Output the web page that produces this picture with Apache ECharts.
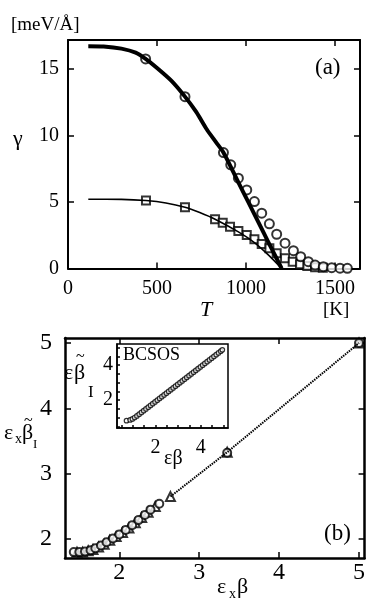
<!DOCTYPE html>
<html>
<head>
<meta charset="utf-8">
<script src="https://cdn.jsdelivr.net/npm/echarts@6/dist/echarts.min.js"></script>
<style>
  html, body { margin: 0; padding: 0; background: #fff; }
  #chart { width: 368px; height: 611px; }
</style>
</head>
<body>
<div id="chart"></div>
<script>
// panel (a): gamma vs T
const thickT = [114, 200, 300, 380, 436, 500, 580, 657, 720, 779, 830, 873, 950, 1010, 1100, 1150, 1200];
const thickG = [16.68, 16.66, 16.5, 16.2, 15.73, 15.05, 14.1, 12.9, 11.75, 10.45, 9.5, 8.7, 6.65, 5.05, 2.65, 1.32, 0];
const circleT = [436, 657, 873, 914, 957, 1004, 1047, 1088, 1131, 1172, 1219, 1266, 1307, 1350, 1388, 1434, 1481, 1528, 1569];
const circleG = [15.73, 12.9, 8.7, 7.78, 6.78, 5.9, 5.02, 4.15, 3.35, 2.57, 1.9, 1.34, 0.89, 0.51, 0.26, 0.14, 0.06, 0.02, 0.01];
const thinT = [114, 300, 438, 550, 657, 740, 826, 957, 1047, 1131, 1200];
const thinG = [5.2, 5.19, 5.1, 4.92, 4.6, 4.2, 3.7, 2.75, 1.95, 0.95, 0];
const squareT = [438, 657, 826, 869, 910, 957, 1004, 1047, 1088, 1131, 1172, 1219, 1262, 1303, 1344, 1388, 1431];
const squareG = [5.1, 4.6, 3.7, 3.44, 3.14, 2.82, 2.52, 2.19, 1.84, 1.52, 1.14, 0.77, 0.51, 0.31, 0.19, 0.09, 0.05];
const ticksAX = [0, 500, 1000, 1500];
const ticksAY = [0, 5, 10, 15];

// panel (b)
const circBX = [1.43, 1.50, 1.57, 1.64, 1.70, 1.77, 1.84, 1.92, 2.00, 2.08, 2.16, 2.24, 2.32, 2.39, 2.50, 3.35, 5.0];
const circBY = [1.80, 1.80, 1.81, 1.83, 1.86, 1.90, 1.95, 2.01, 2.07, 2.14, 2.21, 2.29, 2.37, 2.45, 2.54, 3.32, 5.0];
const triBX = [1.47, 1.54, 1.61, 1.67, 1.74, 1.81, 1.88, 1.96, 2.04, 2.12, 2.20, 2.28, 2.36, 2.45, 2.64, 3.35, 5.0];
const triBY = [1.80, 1.80, 1.82, 1.84, 1.88, 1.92, 1.98, 2.04, 2.10, 2.17, 2.25, 2.33, 2.41, 2.50, 2.65, 3.33, 5.0];
const dotX = [2.64, 3.35, 5.0];
const dotY = [2.65, 3.33, 5.0];
const ticksB = [2, 3, 4, 5];

// inset BCSOS
const insetX = [0.72, 0.88, 0.98, 1.08, 1.18, 1.28, 1.38, 1.48, 1.58, 1.68, 1.78, 1.88, 1.98, 2.08, 2.18, 2.28, 2.38, 2.48, 2.58, 2.68, 2.78, 2.88, 2.98, 3.08, 3.18, 3.28, 3.38, 3.48, 3.58, 3.68, 3.78, 3.88, 3.98, 4.08, 4.18, 4.28, 4.38, 4.48, 4.58, 4.68, 4.78, 4.88, 4.95];
const insetY = [0.82, 0.86, 0.92, 1.00, 1.09, 1.19, 1.29, 1.39, 1.49, 1.59, 1.69, 1.79, 1.89, 1.99, 2.09, 2.19, 2.29, 2.39, 2.49, 2.59, 2.69, 2.79, 2.89, 2.99, 3.09, 3.19, 3.29, 3.39, 3.49, 3.59, 3.69, 3.79, 3.89, 3.99, 4.09, 4.19, 4.29, 4.39, 4.49, 4.59, 4.69, 4.79, 4.87];
const insetMinor = [0.5, 1, 1.5, 2, 2.5, 3, 3.5, 4, 4.5, 5];
const insetLabels = [2, 4];

const FONT = '"Liberation Serif", "DejaVu Serif", serif';
const zip = (a, b) => a.map((v, i) => [v, b[i]]);

function axis(grid, pos, min, max, ticks, labels, opts) {
  opts = opts || {};
  return {
    type: 'value', gridIndex: grid, position: pos, min: min, max: max,
    axisLine: { show: true, onZero: false, lineStyle: { color: '#000', width: opts.lw || 2 } },
    axisTick: { show: ticks.length > 0, inside: true, length: opts.tl || 6, customValues: ticks, lineStyle: { color: '#000', width: 1.5 } },
    axisLabel: {
      show: !!labels, customValues: labels || [], color: '#000', fontFamily: FONT,
      fontSize: opts.fs || 20, margin: opts.margin || 8,
      formatter: v => String(v)
    },
    splitLine: { show: false }
  };
}

function txt(x, y, s, size, extra) {
  return {
    type: 'text', x: x, y: y, silent: true,
    style: Object.assign({ text: s, fontFamily: FONT, fontSize: size, fill: '#000', align: 'left', verticalAlign: 'middle' }, extra || {})
  };
}

const myChart = echarts.init(document.getElementById('chart'), null, { renderer: 'canvas' });

const option = {
  backgroundColor: '#fff',
  animation: false,
  grid: [
    { left: 68, top: 40, width: 292, height: 228.5 },
    { left: 65, top: 338, width: 300, height: 220 },
    { left: 117, top: 344, width: 111, height: 84, show: true, backgroundColor: '#fff', borderColor: '#000', borderWidth: 1.5, z: 5 }
  ],
  xAxis: [
    axis(0, 'bottom', 0, 1640, [500, 1000, 1500], ticksAX, { margin: 10 }),
    axis(0, 'top', 0, 1640, [500, 1000, 1500], null),
    axis(1, 'bottom', 1.32, 5.07, ticksB, ticksB, { fs: 24, margin: 3, lw: 2.5 }),
    axis(1, 'top', 1.32, 5.07, ticksB, null, { lw: 2.5 }),
    Object.assign(axis(2, 'bottom', 0.3, 5.2, insetMinor, insetLabels, { fs: 20, margin: 10, tl: 3, lw: 1.5 }), { z: 6 })
  ],
  yAxis: [
    axis(0, 'left', 0, 17.15, [5, 10, 15], ticksAY, { margin: 9 }),
    axis(0, 'right', 0, 17.15, [5, 10, 15], null),
    axis(1, 'left', 1.71, 5.077, ticksB, ticksB, { fs: 24, margin: 13, lw: 2.5 }),
    axis(1, 'right', 1.71, 5.077, ticksB, null, { lw: 2.5 }),
    Object.assign(axis(2, 'left', 0.4, 5.2, insetMinor, insetLabels, { fs: 20, margin: 4, tl: 3, lw: 1.5 }), { z: 6 })
  ],
  series: [
    {
      type: 'line', xAxisIndex: 0, yAxisIndex: 0, data: zip(thickT, thickG),
      smooth: 0.25, showSymbol: false, symbol: 'none',
      lineStyle: { color: '#000', width: 4 }
    },
    {
      type: 'line', xAxisIndex: 0, yAxisIndex: 0, data: zip(thinT, thinG),
      smooth: 0.25, showSymbol: false, symbol: 'none',
      lineStyle: { color: '#000', width: 1.6 }
    },
    {
      type: 'scatter', xAxisIndex: 0, yAxisIndex: 0, data: zip(squareT, squareG),
      symbol: 'rect', symbolSize: 8,
      itemStyle: { color: '#fff', borderColor: '#000', borderWidth: 2 }
    },
    {
      type: 'scatter', xAxisIndex: 0, yAxisIndex: 0, data: zip(circleT, circleG),
      symbol: 'circle', symbolSize: 9,
      itemStyle: { color: '#fff', borderColor: '#000', borderWidth: 2 }
    },
    {
      type: 'line', xAxisIndex: 2, yAxisIndex: 2, data: zip(dotX, dotY),
      showSymbol: false, symbol: 'none',
      lineStyle: { color: '#000', width: 2, type: [1.5, 1] }
    },
    {
      type: 'scatter', xAxisIndex: 2, yAxisIndex: 2, data: zip(triBX, triBY),
      symbol: 'triangle', symbolSize: 9,
      itemStyle: { color: '#fff', borderColor: '#000', borderWidth: 2 }
    },
    {
      type: 'scatter', xAxisIndex: 2, yAxisIndex: 2, data: zip(circBX, circBY),
      symbol: 'circle', symbolSize: 8,
      itemStyle: { color: '#fff', borderColor: '#000', borderWidth: 2 }
    },
    {
      type: 'scatter', xAxisIndex: 4, yAxisIndex: 4, data: zip(insetX, insetY),
      symbol: 'circle', symbolSize: 4.5, z: 7,
      itemStyle: { color: '#fff', borderColor: '#000', borderWidth: 1.2 }
    }
  ],
  graphic: [
    txt(11, 25, '[meV/Å]', 19),
    txt(13, 139, 'γ', 22),
    txt(200, 310, 'T', 22, { fontStyle: 'italic' }),
    txt(323, 310, '[K]', 19),
    txt(315, 68, '(a)', 23),
    txt(324, 534, '(b)', 23),
    // panel (b) y label
    txt(4, 433, 'ε', 22),
    txt(15, 439, 'x', 14),
    txt(22, 433, 'β', 22),
    txt(24, 421, '~', 16),
    txt(33, 445, 'I', 13),
    // panel (b) x label
    txt(217, 587, 'ε', 22),
    txt(229, 594, 'x', 14),
    txt(237, 587, 'β', 22),
    // inset labels
    txt(64, 373, 'ε', 22),
    txt(74, 373, 'β', 22),
    txt(76, 357, '~', 16),
    txt(88, 393, 'I', 17),
    txt(164, 459, 'εβ', 20),
    { type: 'text', x: 123, y: 355, z: 100, silent: true,
      style: { text: 'BCSOS', fontFamily: FONT, fontSize: 18, fill: '#000', verticalAlign: 'middle' } }
  ]
};

myChart.setOption(option);
</script>
</body>
</html>
